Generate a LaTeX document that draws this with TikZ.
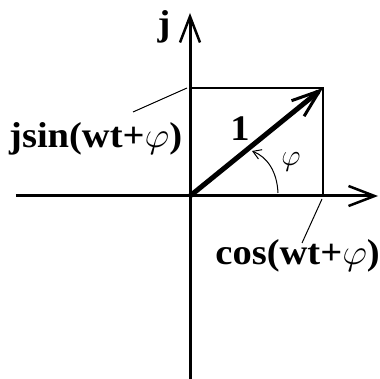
\RequirePackage{fix-cm}
\documentclass[tikz,border=0pt]{standalone}
\usepackage{fontspec}
\setmainfont{Liberation Serif}
\usetikzlibrary{arrows.meta,positioning}

\begin{document}
\begin{tikzpicture}[x=1pt,y=1pt,
    axis/.style={line width=3pt, -{Straight Barb[length=26pt,width=20pt,line width=2.5pt]}},
    thinline/.style={line width=1.2pt},
    leader/.style={line width=1pt},
    lbl/.style={font=\fontsize{36}{40}\selectfont\bfseries, inner sep=0pt, xscale=1.07, transform shape}]
    \useasboundingbox (-190,-183) rectangle (189,196);

    % Axes
    \coordinate (O) at (0,0);
    \coordinate (xl) at (-174,0);
    \coordinate (xr) at (188,0);
    \coordinate (yb) at (0,-183);
    \coordinate (yt) at (0,183);
    \draw[axis] (xl) -- (xr);
    \draw[axis] (yb) -- (yt);

    % Projection box
    \coordinate (P) at (133,108);
    \coordinate (Py) at (0,108);
    \coordinate (Px) at (133,0);
    \draw[thinline] (Py) -- (P) -- (Px);

    % Unit vector
    \draw[line width=5pt, -{Straight Barb[length=28pt,width=20pt,line width=3pt]}] (O) -- (P);

    % Angle
    \coordinate (a1) at (88,3);
    \coordinate (a2) at (62,45);
    \draw[leader, -{Straight Barb[length=8pt,width=10pt]}] (a1) .. controls (87,25) and (77,39) .. (a2);
    \node[font=\fontsize{30}{34}\selectfont] (phi) at (101,34) {$\varphi$};

    % Labels
    \node[lbl, anchor=base] (jlbl) at (-26,160) {j};
    \node[lbl, anchor=base] (one) at (50,55) {1};
    \node[lbl, anchor=base west] (sinlbl) at (-181,48) {jsin(wt+$\varphi$)};
    \node[lbl, anchor=base east] (coslbl) at (190,-69) {cos(wt+$\varphi$)};

    % Leaders
    \coordinate (sinfoot) at (-3,108);
    \coordinate (sinend) at (-57,84);
    \coordinate (cosfoot) at (132,-3);
    \coordinate (cosend) at (112,-47);
    \draw[leader] (sinfoot) -- (sinend);
    \draw[leader] (cosfoot) -- (cosend);
\end{tikzpicture}
\end{document}
